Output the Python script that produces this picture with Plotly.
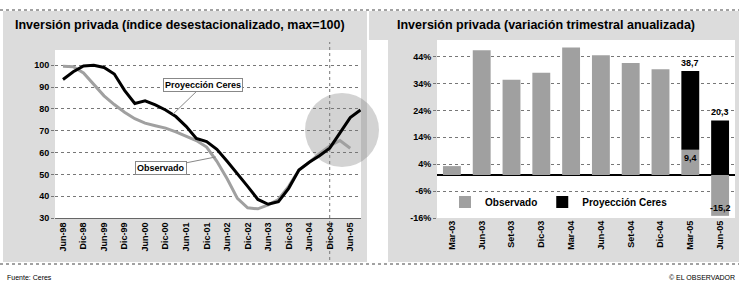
import plotly.graph_objects as go

# ---------------- data ----------------
quarters = ["Jun-98","Sep-98","Dic-98","Mar-99","Jun-99","Sep-99","Dic-99","Mar-00","Jun-00","Sep-00",
            "Dic-00","Mar-01","Jun-01","Sep-01","Dic-01","Mar-02","Jun-02","Sep-02","Dic-02","Mar-03",
            "Jun-03","Sep-03","Dic-03","Mar-04","Jun-04","Sep-04","Dic-04","Mar-05","Jun-05","Sep-05"]
proyeccion_idx = [93.5, 97.0, 99.7, 100.0, 99.0, 96.0, 88.5, 82.5, 83.7, 81.8,
                  79.5, 76.5, 72.0, 66.5, 65.0, 61.5, 56.0, 50.5, 44.5, 38.5,
                  36.3, 37.5, 43.6, 52.0, 55.5, 58.5, 62.0, 69.0, 76.0, 79.5]
observado_idx = [99.5, 99.3, 96.5, 91.0, 86.0, 82.0, 78.5, 75.5, 73.5, 72.3,
                 71.2, 69.5, 67.5, 65.5, 62.5, 56.0, 48.0, 39.0, 34.7, 34.2,
                 36.0, 38.5, 44.5, 52.0, 55.5, 59.5, 63.0, 65.5, 62.0, None]
left_tick_labels = ["Jun-98","Dic-98","Jun-99","Dic-99","Jun-00","Dic-00","Jun-01","Dic-01",
                    "Jun-02","Dic-02","Jun-03","Dic-03","Jun-04","Dic-04","Jun-05"]
left_y_ticks = [30, 40, 50, 60, 70, 80, 90, 100]

bar_cats = ["Mar-03","Jun-03","Set-03","Dic-03","Mar-04","Jun-04","Set-04","Dic-04","Mar-05","Jun-05"]
observado_var = [3.3, 46.4, 35.4, 38.0, 47.4, 44.5, 41.6, 39.3, 9.4, -15.2]
proyeccion_var = [None, None, None, None, None, None, None, None, 38.7, 20.3]
right_y_ticks = [-16, -6, 4, 14, 24, 34, 44]

W, H = 739, 284
def px(x): return x / W
def py(y): return 1 - y / H

GRAY_BG = "#dcdcdc"
OBS_GRAY = "#a0a0a0"
FONT = "Liberation Sans, Arial, sans-serif"
fmt = lambda v: f"{v:.1f}".replace(".", ",")

fig = go.Figure()

# ---------------- left chart ----------------
xi = list(range(len(quarters)))
fig.add_trace(go.Scatter(x=xi, y=observado_idx, mode="lines", line=dict(color=OBS_GRAY, width=3),
                         showlegend=False, xaxis="x", yaxis="y"))
fig.add_trace(go.Scatter(x=xi, y=proyeccion_idx, mode="lines", line=dict(color="#000000", width=3),
                         showlegend=False, xaxis="x", yaxis="y"))

# ---------------- right chart ----------------
proj_seg = []
value_labels = []
for cat, o, p in zip(bar_cats, observado_var, proyeccion_var):
    if p is None:
        proj_seg.append(None)
    else:
        base = o if o > 0 else 0
        proj_seg.append(p - base)
        value_labels.append((cat, p, "bottom", 1))
        value_labels.append((cat, o, "top" if o > 0 else "bottom", 2 if o > 0 else 3))

fig.add_trace(go.Bar(x=bar_cats, y=observado_var, name="Observado", marker=dict(color=OBS_GRAY, line=dict(width=0)),
                     width=0.6, xaxis="x2", yaxis="y2"))
fig.add_trace(go.Bar(x=bar_cats, y=proj_seg, name="Proyección Ceres", marker=dict(color="#000000", line=dict(width=0)),
                     width=0.6, xaxis="x2", yaxis="y2"))

tickfont = dict(family=FONT, size=9, color="#000", weight="bold")

fig.update_layout(
    template="none",
    width=W, height=H, margin=dict(l=0, r=0, t=0, b=0, autoexpand=False),
    paper_bgcolor="white", plot_bgcolor="rgba(0,0,0,0)",
    barmode="relative",
    font=dict(family=FONT, color="#000"),
    xaxis=dict(domain=[px(55), px(361)], range=[-0.78, 29.05], automargin=False,
               tickmode="array", tickvals=list(range(0, 29, 2)), ticktext=left_tick_labels,
               tickangle=-90, tickfont=tickfont, showgrid=False, zeroline=False,
               showline=True, linecolor="#666", linewidth=1, ticks=""),
    yaxis=dict(domain=[py(218), py(50)], range=[30, 107], tickvals=left_y_ticks, automargin=False,
               tickfont=tickfont, showgrid=True, gridcolor="#777", griddash="dot", gridwidth=1,
               zeroline=False, showline=False, ticks="outside", ticklen=3, tickcolor="#777"),
    xaxis2=dict(domain=[px(437), px(735)], anchor="y2", tickangle=-90, tickfont=tickfont, automargin=False,
                showgrid=False, zeroline=False, showline=False, ticks=""),
    yaxis2=dict(domain=[py(218), py(40)], anchor="x2", range=[-16, 50.2], tickvals=right_y_ticks,
                ticktext=[f"{v}%" for v in right_y_ticks], tickfont=tickfont, automargin=False,
                showgrid=True, gridcolor="#777", griddash="dot", gridwidth=1, showline=False,
                zeroline=True, zerolinecolor="#000", zerolinewidth=1.5,
                ticks="outside", ticklen=3, tickcolor="#777"),
    legend=dict(orientation="h", x=px(445), xanchor="left", y=py(202), yanchor="middle",
                bgcolor="rgba(0,0,0,0)", font=dict(family=FONT, size=10, weight="bold"),
                itemwidth=30, traceorder="normal", borderwidth=0),
)

shapes = [
    dict(type="rect", xref="paper", yref="paper", x0=px(3), x1=px(367), y0=py(262), y1=py(11),
         fillcolor=GRAY_BG, line=dict(width=0), layer="below"),
    dict(type="rect", xref="paper", yref="paper", x0=px(369), x1=px(739), y0=py(40), y1=py(11),
         fillcolor=GRAY_BG, line=dict(width=0), layer="below"),
    dict(type="rect", xref="paper", yref="paper", x0=px(388), x1=px(739), y0=py(262), y1=py(40),
         fillcolor=GRAY_BG, line=dict(width=0), layer="below"),
    dict(type="rect", xref="paper", yref="paper", x0=px(55), x1=px(361), y0=py(218), y1=py(50),
         fillcolor="white", line=dict(width=0), layer="below"),
    dict(type="rect", xref="paper", yref="paper", x0=px(437), x1=px(735), y0=py(218), y1=py(40),
         fillcolor="white", line=dict(width=0), layer="below"),
    dict(type="circle", xref="paper", yref="paper", x0=px(305), x1=px(379), y0=py(167), y1=py(93),
         fillcolor="rgba(120,120,120,0.33)", line=dict(width=0), layer="below"),
    dict(type="line", xref="x", yref="paper", x0=26, x1=26, y0=py(260), y1=py(42),
         line=dict(color="#777", width=1, dash="dot"), layer="below"),
    dict(type="line", xref="paper", yref="paper", x0=0, x1=1, y0=py(10), y1=py(10),
         line=dict(color="#444", width=1, dash="dot")),
    dict(type="line", xref="paper", yref="paper", x0=0, x1=1, y0=py(264), y1=py(264),
         line=dict(color="#444", width=1, dash="dot")),
]
fig.update_layout(shapes=shapes)

annotations = [
    dict(xref="paper", yref="paper", x=px(13), y=py(25), xanchor="left", yanchor="middle",
         text="Inversión privada (índice desestacionalizado, max=100)", showarrow=False,
         font=dict(family=FONT, size=12.5, weight="bold", color="#000")),
    dict(xref="paper", yref="paper", x=px(395), y=py(25), xanchor="left", yanchor="middle",
         text="Inversión privada (variación trimestral anualizada)", showarrow=False,
         font=dict(family=FONT, size=12.5, weight="bold", color="#000")),
    dict(xref="x", yref="y", x=10.7, y=77.5, ax=30, ay=-29, text="Proyección Ceres",
         showarrow=True, arrowhead=0, arrowcolor="#888", arrowwidth=1,
         bgcolor="white", bordercolor="#888", borderwidth=1, borderpad=1,
         font=dict(family=FONT, size=9, weight="bold", color="#000")),
    dict(xref="x", yref="y", x=14.9, y=58, ax=-55, ay=11, text="Observado",
         showarrow=True, arrowhead=0, arrowcolor="#888", arrowwidth=1,
         bgcolor="white", bordercolor="#888", borderwidth=1, borderpad=1,
         font=dict(family=FONT, size=9, weight="bold", color="#000")),
    dict(xref="paper", yref="paper", x=px(5), y=py(277), xanchor="left", yanchor="middle",
         text="Fuente: Ceres", showarrow=False, font=dict(family=FONT, size=7, color="#000")),
    dict(xref="paper", yref="paper", x=px(737), y=py(277), xanchor="right", yanchor="middle",
         text="© EL OBSERVADOR", showarrow=False, font=dict(family=FONT, size=7, color="#000")),
]
for cat, v, anchor, kind in value_labels:
    annotations.append(dict(xref="x2", yref="y2", x=cat, y=v, text=fmt(v), showarrow=False,
                            yanchor=anchor, yshift=(1 if kind == 1 else (-1 if kind == 2 else 1)),
                            font=dict(family=FONT, size=9, weight="bold", color="#000")))
fig.update_layout(annotations=annotations)

fig.write_html("out.html", config={"displayModeBar": False, "staticPlot": True},
               post_script="document.body.style.margin='0';document.body.style.overflow='hidden';")
